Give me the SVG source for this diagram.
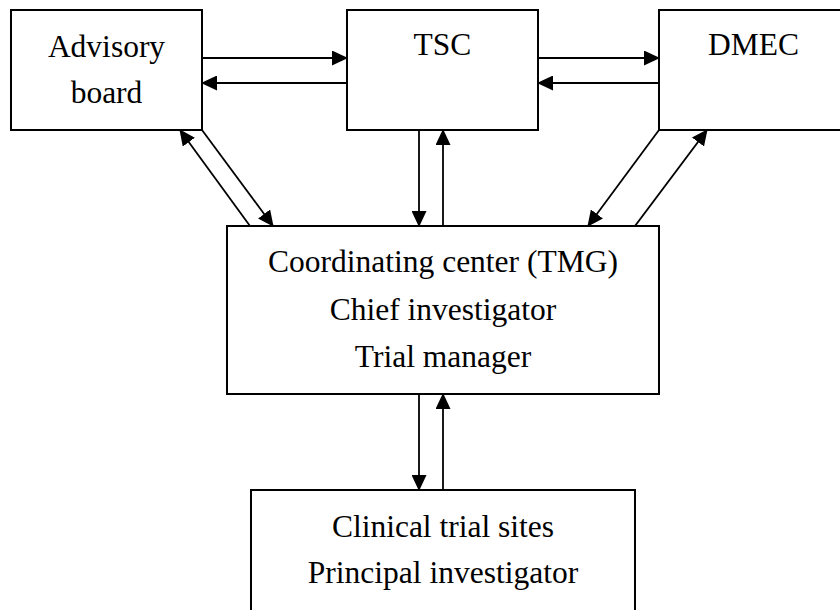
<svg xmlns="http://www.w3.org/2000/svg" width="840" height="610" viewBox="0 0 840 610">
<style>
.box{fill:#fff;stroke:#000;stroke-width:2}
.lbl{font-family:"Liberation Serif","DejaVu Serif","Times New Roman",serif;font-size:31.5px;fill:#000;text-anchor:middle}
.c{stroke:#000;stroke-width:1.8;fill:none;marker-end:url(#ah)}
</style>
<defs>
<marker id="ah" markerUnits="userSpaceOnUse" markerWidth="16" markerHeight="15" refX="15" refY="7.5" orient="auto">
<path d="M0,0 L16,7.5 L0,15 z" fill="#000"/>
</marker>
</defs>
<rect width="840" height="610" fill="#fff"/>
<g id="advisory">
<rect class="box" x="11" y="10" width="191" height="120"/>
<text class="lbl" x="106.5" y="57" font-family="Liberation Serif, serif">Advisory</text>
<text class="lbl" x="106.5" y="103" font-family="Liberation Serif, serif">board</text>
</g>
<g id="tsc">
<rect class="box" x="347" y="10" width="191" height="120"/>
<text class="lbl" x="442.5" y="55" font-family="Liberation Serif, serif">TSC</text>
</g>
<g id="dmec">
<rect class="box" x="659" y="10" width="190" height="120"/>
<text class="lbl" x="753.5" y="55" font-family="Liberation Serif, serif">DMEC</text>
</g>
<g id="coord">
<rect class="box" x="227" y="226" width="432" height="168"/>
<text class="lbl" x="443" y="272" font-family="Liberation Serif, serif">Coordinating center (TMG)</text>
<text class="lbl" x="443" y="320" font-family="Liberation Serif, serif">Chief investigator</text>
<text class="lbl" x="443" y="367" font-family="Liberation Serif, serif">Trial manager</text>
</g>
<g id="sites">
<rect class="box" x="251" y="490" width="384" height="130"/>
<text class="lbl" x="443" y="537" font-family="Liberation Serif, serif">Clinical trial sites</text>
<text class="lbl" x="443" y="583" font-family="Liberation Serif, serif">Principal investigator</text>
</g>
<g id="connectors">
<line class="c" x1="202" y1="58" x2="347" y2="58"/>
<line class="c" x1="347" y1="83" x2="202" y2="83"/>
<line class="c" x1="538" y1="58" x2="659" y2="58"/>
<line class="c" x1="659" y1="83" x2="538" y2="83"/>
<line class="c" x1="419" y1="130" x2="419" y2="226"/>
<line class="c" x1="443" y1="226" x2="443" y2="130"/>
<line class="c" x1="419" y1="394" x2="419" y2="490"/>
<line class="c" x1="443" y1="490" x2="443" y2="394"/>
<line class="c" x1="202" y1="130" x2="273" y2="226"/>
<line class="c" x1="250" y1="226" x2="180" y2="130"/>
<line class="c" x1="659" y1="130" x2="588" y2="226"/>
<line class="c" x1="635" y1="226" x2="707" y2="130"/>
</g>
</svg>
